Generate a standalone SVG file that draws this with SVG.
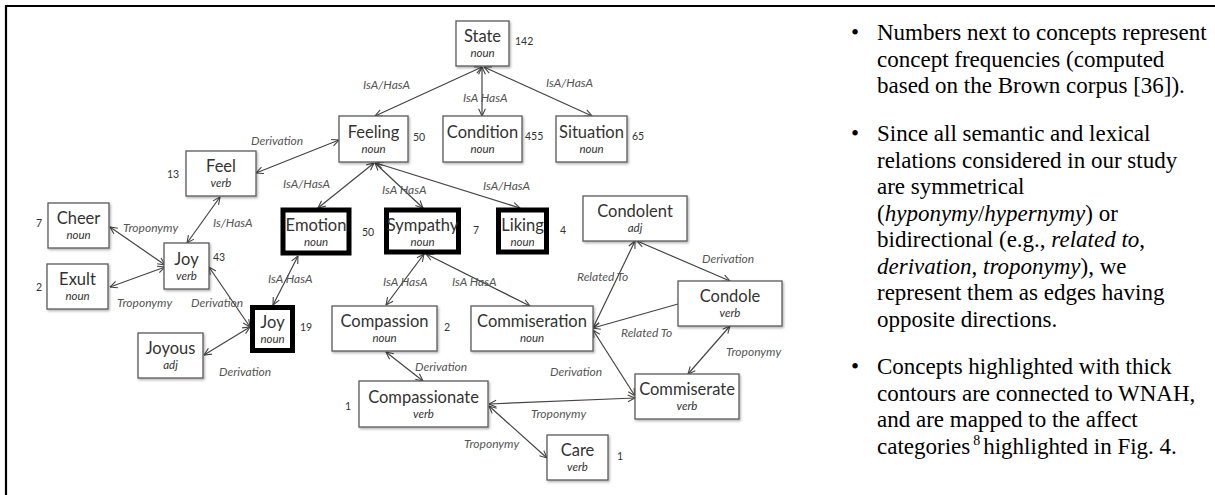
<svg xmlns="http://www.w3.org/2000/svg" width="1215" height="495" viewBox="0 0 1215 495">
  <defs>
    <style>
      .box { fill: #fff; stroke: #5a5a5a; stroke-width: 1.3; filter: url(#shadow); }
      .thick { fill: #fff; stroke: #000; stroke-width: 5; }
      .t { font-family: Lato, "Liberation Sans", sans-serif; font-size: 16.5px; fill: #333; text-anchor: middle; }
      .s { font-family: Lato, "Liberation Sans", sans-serif; font-size: 11.5px; font-style: italic; fill: #333; text-anchor: middle; }
      .n { font-family: Lato, "Liberation Sans", sans-serif; font-size: 10.5px; fill: #333; }
      .lbl { font-family: Lato, "Liberation Sans", sans-serif; font-size: 12px; font-style: italic; fill: #555; }
      .edge { stroke: #444; stroke-width: 1.2; fill: none; marker-start: url(#arr); marker-end: url(#arr); }
      .edge1 { stroke: #444; stroke-width: 1.2; fill: none; marker-end: url(#arr); }
      .note { font-family: "Liberation Serif", "Times New Roman", serif; font-size: 23px; fill: #000; }
      .frame { stroke: #000; stroke-width: 2.2; fill: none; }
    </style>
    <marker id="arr" viewBox="0 0 10 10" refX="9.5" refY="5" markerWidth="8.5" markerHeight="8.5" markerUnits="userSpaceOnUse" orient="auto-start-reverse">
      <path d="M1,1 L9.5,5 L1,9" fill="none" stroke="#444" stroke-width="1.3"/>
    </marker>
    <filter id="shadow" x="-10%" y="-10%" width="130%" height="140%">
      <feDropShadow dx="1.2" dy="1.5" stdDeviation="0.9" flood-color="#000" flood-opacity="0.3"/>
    </filter>
  </defs>

  <rect width="1215" height="495" fill="#fff"/>
  <!-- page frame (top and left rules) -->
  <path class="frame" d="M6,495 L6,6 L1215,6"/>

  <!-- connectors -->
  <g id="connectors">
    <line class="edge" x1="482" y1="67" x2="375" y2="116"/>
    <line class="edge" x1="482" y1="67" x2="482" y2="116"/>
    <line class="edge" x1="484" y1="67" x2="592" y2="116"/>
    <line class="edge" x1="339" y1="140" x2="256" y2="173"/>
    <line class="edge" x1="374" y1="163" x2="318" y2="208"/>
    <line class="edge" x1="375" y1="163" x2="423" y2="208"/>
    <line class="edge" x1="376" y1="163" x2="520" y2="208"/>
    <line class="edge" x1="220" y1="197" x2="187" y2="243"/>
    <line class="edge" x1="110" y1="227" x2="165" y2="265"/>
    <line class="edge" x1="110" y1="287" x2="165" y2="267"/>
    <line class="edge" x1="209" y1="267" x2="250" y2="327"/>
    <line class="edge" x1="204" y1="355" x2="250" y2="327"/>
    <line class="edge" x1="298" y1="256" x2="273" y2="305"/>
    <line class="edge" x1="424" y1="254" x2="386" y2="305"/>
    <line class="edge" x1="426" y1="254" x2="530" y2="306"/>
    <line class="edge" x1="386" y1="352" x2="423" y2="381"/>
    <line class="edge" x1="593" y1="328" x2="635" y2="241"/>
    <line class="edge" x1="637" y1="241" x2="730" y2="281"/>
    <line class="edge1" x1="678" y1="304" x2="593" y2="328"/>
    <line class="edge" x1="593" y1="330" x2="635" y2="396"/>
    <line class="edge" x1="730" y1="326" x2="688" y2="374"/>
    <line class="edge" x1="489" y1="404" x2="635" y2="398"/>
    <line class="edge" x1="489" y1="406" x2="547" y2="458"/>

    <!-- relation labels -->
    <text class="lbl" x="363" y="89">IsA/HasA</text>
    <text class="lbl" x="463" y="102">IsA HasA</text>
    <text class="lbl" x="546" y="87">IsA/HasA</text>
    <text class="lbl" x="251" y="145">Derivation</text>
    <text class="lbl" x="283" y="188">IsA/HasA</text>
    <text class="lbl" x="382" y="194">IsA HasA</text>
    <text class="lbl" x="483" y="190">IsA/HasA</text>
    <text class="lbl" x="123" y="232">Troponymy</text>
    <text class="lbl" x="213" y="227">Is/HasA</text>
    <text class="lbl" x="117" y="307">Troponymy</text>
    <text class="lbl" x="191" y="307">Derivation</text>
    <text class="lbl" x="268" y="283">IsA HasA</text>
    <text class="lbl" x="219" y="376">Derivation</text>
    <text class="lbl" x="383" y="286">IsA HasA</text>
    <text class="lbl" x="452" y="286">IsA HasA</text>
    <text class="lbl" x="415" y="371">Derivation</text>
    <text class="lbl" x="550" y="376">Derivation</text>
    <text class="lbl" x="577" y="281">Related To</text>
    <text class="lbl" x="621" y="337">Related To</text>
    <text class="lbl" x="702" y="263">Derivation</text>
    <text class="lbl" x="726" y="356">Troponymy</text>
    <text class="lbl" x="531" y="418">Troponymy</text>
    <text class="lbl" x="464" y="448">Troponymy</text>
  </g>

  <!-- concept nodes -->
  <g id="state">
    <rect class="box" x="456" y="21" width="53" height="45"/>
    <text class="t" x="482.5" y="42">State</text>
    <text class="s" x="482.5" y="57">noun</text>
    <text class="n" x="515" y="45">142</text>
  </g>
  <g id="feeling">
    <rect class="box" x="339" y="116" width="69" height="46"/>
    <text class="t" x="373.5" y="138">Feeling</text>
    <text class="s" x="373.5" y="153">noun</text>
    <text class="n" x="413" y="141">50</text>
  </g>
  <g id="condition">
    <rect class="box" x="443" y="116" width="79" height="46"/>
    <text class="t" x="482.5" y="138">Condition</text>
    <text class="s" x="482.5" y="153">noun</text>
    <text class="n" x="525" y="140">455</text>
  </g>
  <g id="situation">
    <rect class="box" x="556" y="116" width="71" height="46"/>
    <text class="t" x="591.5" y="138">Situation</text>
    <text class="s" x="591.5" y="153">noun</text>
    <text class="n" x="632" y="140">65</text>
  </g>
  <g id="feel">
    <rect class="box" x="186" y="151" width="70" height="45"/>
    <text class="t" x="221" y="172">Feel</text>
    <text class="s" x="221" y="187">verb</text>
    <text class="n" x="167" y="178">13</text>
  </g>
  <g id="cheer">
    <rect class="box" x="48" y="203" width="61" height="45"/>
    <text class="t" x="78.5" y="224">Cheer</text>
    <text class="s" x="78.5" y="239">noun</text>
    <text class="n" x="36" y="227">7</text>
  </g>
  <g id="emotion">
    <rect class="thick" x="283" y="210" width="66" height="43"/>
    <text class="t" x="316" y="231">Emotion</text>
    <text class="s" x="316" y="246">noun</text>
    <text class="n" x="362" y="236">50</text>
  </g>
  <g id="sympathy">
    <rect class="thick" x="386.5" y="210" width="72" height="42"/>
    <text class="t" x="422.5" y="231">Sympathy</text>
    <text class="s" x="422.5" y="246">noun</text>
    <text class="n" x="473" y="234">7</text>
  </g>
  <g id="liking">
    <rect class="thick" x="498.5" y="210" width="48" height="42"/>
    <text class="t" x="522.5" y="231">Liking</text>
    <text class="s" x="522.5" y="246">noun</text>
    <text class="n" x="560" y="234">4</text>
  </g>
  <g id="condolent">
    <rect class="box" x="583" y="196" width="104" height="45"/>
    <text class="t" x="635" y="217">Condolent</text>
    <text class="s" x="635" y="232">adj</text>
  </g>
  <g id="joy-verb">
    <rect class="box" x="164" y="243" width="45" height="46"/>
    <text class="t" x="186.5" y="265">Joy</text>
    <text class="s" x="186.5" y="280">verb</text>
    <text class="n" x="213" y="261">43</text>
  </g>
  <g id="exult">
    <rect class="box" x="47" y="264" width="61" height="45"/>
    <text class="t" x="77.5" y="285">Exult</text>
    <text class="s" x="77.5" y="300">noun</text>
    <text class="n" x="36" y="291">2</text>
  </g>
  <g id="joy-noun">
    <rect class="thick" x="252.5" y="307.5" width="40" height="43"/>
    <text class="t" x="272.5" y="328">Joy</text>
    <text class="s" x="272.5" y="343">noun</text>
    <text class="n" x="300" y="331">19</text>
  </g>
  <g id="joyous">
    <rect class="box" x="138" y="333" width="65" height="45"/>
    <text class="t" x="170.5" y="354">Joyous</text>
    <text class="s" x="170.5" y="369">adj</text>
  </g>
  <g id="compassion">
    <rect class="box" x="332" y="306" width="105" height="45"/>
    <text class="t" x="384.5" y="327">Compassion</text>
    <text class="s" x="384.5" y="342">noun</text>
    <text class="n" x="444" y="331">2</text>
  </g>
  <g id="commiseration">
    <rect class="box" x="471" y="306" width="122" height="45"/>
    <text class="t" x="532" y="327">Commiseration</text>
    <text class="s" x="532" y="342">noun</text>
  </g>
  <g id="condole">
    <rect class="box" x="678" y="281" width="104" height="45"/>
    <text class="t" x="730" y="302">Condole</text>
    <text class="s" x="730" y="317">verb</text>
  </g>
  <g id="compassionate">
    <rect class="box" x="359" y="381" width="129" height="46"/>
    <text class="t" x="423.5" y="403">Compassionate</text>
    <text class="s" x="423.5" y="418">verb</text>
    <text class="n" x="345" y="410">1</text>
  </g>
  <g id="commiserate">
    <rect class="box" x="635" y="374" width="104" height="45"/>
    <text class="t" x="687" y="395">Commiserate</text>
    <text class="s" x="687" y="410">verb</text>
  </g>
  <g id="care">
    <rect class="box" x="547" y="435" width="61" height="45"/>
    <text class="t" x="577.5" y="456">Care</text>
    <text class="s" x="577.5" y="471">verb</text>
    <text class="n" x="617" y="460">1</text>
  </g>

  <!-- explanatory notes -->
  <g id="notes" class="note">
    <text x="851" y="40">•</text>
    <text x="877" y="40">Numbers next to concepts represent</text>
    <text x="877" y="66.5">concept frequencies (computed</text>
    <text x="877" y="93">based on the Brown corpus [36]).</text>

    <text x="851" y="141">•</text>
    <text x="877" y="141">Since all semantic and lexical</text>
    <text x="877" y="167.5">relations considered in our study</text>
    <text x="877" y="194">are symmetrical</text>
    <text x="877" y="220.5">(<tspan font-style="italic">hyponymy</tspan>/<tspan font-style="italic">hypernymy</tspan>) or</text>
    <text x="877" y="247">bidirectional (e.g., <tspan font-style="italic">related to</tspan>,</text>
    <text x="877" y="273.5"><tspan font-style="italic">derivation</tspan>, <tspan font-style="italic">troponymy</tspan>), we</text>
    <text x="877" y="300">represent them as edges having</text>
    <text x="877" y="326.5">opposite directions.</text>

    <text x="851" y="374">•</text>
    <text x="877" y="374">Concepts highlighted with thick</text>
    <text x="877" y="400.5">contours are connected to WNAH,</text>
    <text x="877" y="427">and are mapped to the affect</text>
    <text x="877" y="453.5">categories<tspan dx="3" dy="-9" font-size="14">8</tspan><tspan dx="3" dy="9">highlighted in Fig. 4.</tspan></text>
  </g>
</svg>
